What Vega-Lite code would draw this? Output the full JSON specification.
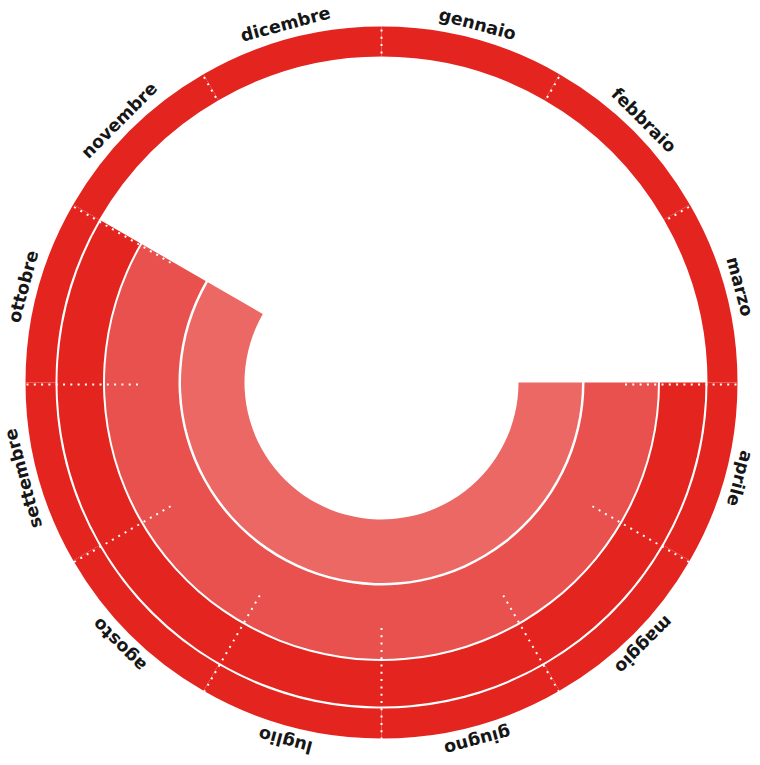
{
  "$schema": "https://vega.github.io/schema/vega-lite/v6.json",
  "width": 760,
  "height": 765,
  "autosize": {"type": "fit", "contains": "padding"},
  "padding": {"left": 3, "top": 0, "right": 0, "bottom": 0},
  "background": "white",
  "config": {"view": {"stroke": null}},
  "datasets": {
    "mesi": [
      {"mese": "gennaio", "inizio": 0, "fine": 1},
      {"mese": "febbraio", "inizio": 1, "fine": 2},
      {"mese": "marzo", "inizio": 2, "fine": 3},
      {"mese": "aprile", "inizio": 3, "fine": 4},
      {"mese": "maggio", "inizio": 4, "fine": 5},
      {"mese": "giugno", "inizio": 5, "fine": 6},
      {"mese": "luglio", "inizio": 6, "fine": 7},
      {"mese": "agosto", "inizio": 7, "fine": 8},
      {"mese": "settembre", "inizio": 8, "fine": 9},
      {"mese": "ottobre", "inizio": 9, "fine": 10},
      {"mese": "novembre", "inizio": 10, "fine": 11},
      {"mese": "dicembre", "inizio": 11, "fine": 12}
    ],
    "anelli": [
      {"anello": "B", "inizio": 3, "fine": 10},
      {"anello": "C", "inizio": 3, "fine": 10},
      {"anello": "D", "inizio": 3, "fine": 10}
    ]
  },
  "layer": [
    {
      "data": {"name": "mesi"},
      "mark": {"type": "arc", "radius": 356, "radius2": 326, "color": "#E3241F"},
      "encoding": {
        "theta": {"field": "inizio", "type": "quantitative", "stack": null, "scale": {"domain": [0, 12]}},
        "theta2": {"field": "fine"}
      }
    },
    {
      "data": {"name": "anelli"},
      "transform": [{"filter": "datum.anello === 'B'"}],
      "mark": {"type": "arc", "radius": 324, "radius2": 278.5, "color": "#E3241F"},
      "encoding": {
        "theta": {"field": "inizio", "type": "quantitative", "stack": null, "scale": {"domain": [0, 12]}},
        "theta2": {"field": "fine"}
      }
    },
    {
      "data": {"name": "anelli"},
      "transform": [{"filter": "datum.anello === 'C'"}],
      "mark": {"type": "arc", "radius": 276.5, "radius2": 203, "color": "#E8514D"},
      "encoding": {
        "theta": {"field": "inizio", "type": "quantitative", "stack": null, "scale": {"domain": [0, 12]}},
        "theta2": {"field": "fine"}
      }
    },
    {
      "data": {"name": "anelli"},
      "transform": [{"filter": "datum.anello === 'D'"}],
      "mark": {"type": "arc", "radius": 200.5, "radius2": 137, "color": "#EC6864"},
      "encoding": {
        "theta": {"field": "inizio", "type": "quantitative", "stack": null, "scale": {"domain": [0, 12]}},
        "theta2": {"field": "fine"}
      }
    },
    {
      "data": {"name": "mesi"},
      "mark": {
        "type": "arc",
        "radius": 355,
        "radius2": 243,
        "yOffset": 2,
        "filled": false,
        "stroke": "white",
        "strokeWidth": 2,
        "strokeDash": [2, 5.3, 2, 5.3, 2, 5.3, 2, 5.3, 2, 5.3, 2, 5.3, 2, 5.3, 2, 5.3, 2, 5.3, 2, 5.3, 2, 5.3, 2, 5.3, 2, 5.3, 2, 5.3, 2, 5.3, 2, 400]
      },
      "encoding": {
        "theta": {"field": "inizio", "type": "quantitative", "stack": null, "scale": {"domain": [0, 12]}},
        "theta2": {"field": "inizio"}
      }
    },
    {
      "data": {"name": "mesi"},
      "mark": {
        "type": "text",
        "radius": 370,
        "thetaOffset": 0.2618,
        "font": "DejaVu Sans",
        "fontWeight": "bold",
        "fontSize": 17.5,
        "align": "center",
        "baseline": "middle",
        "color": "#161616"
      },
      "encoding": {
        "theta": {"field": "inizio", "type": "quantitative", "stack": null, "scale": {"domain": [0, 12]}},
        "angle": {"field": "inizio", "type": "quantitative", "scale": {"domain": [0, 12], "range": [15, 375]}, "legend": null},
        "text": {"field": "mese"}
      }
    }
  ]
}
